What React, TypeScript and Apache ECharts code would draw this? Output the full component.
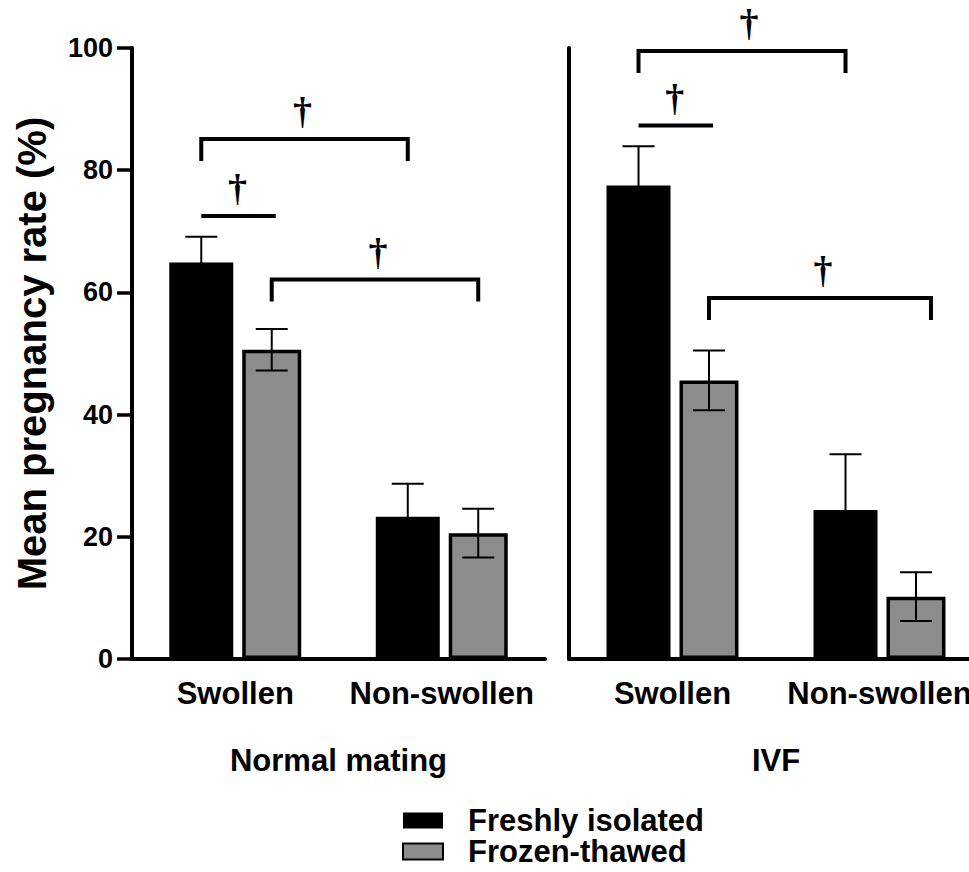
import React, { useEffect, useRef } from "react";
import * as echarts from "echarts";

// ---------- data ----------
const categories = ["Swollen", "Non-swollen"];
const panelNames = ["Normal mating", "IVF"];
const seriesNames = ["Freshly isolated", "Frozen-thawed"];
const yTickLabels = ["0", "20", "40", "60", "80", "100"];
const Y_MIN = 0;
const Y_MAX = 100;
const Y_STEP = 20;
const yTitle = "Mean pregnancy rate (%)";

const matingFresh = [64.9, 23.3];
const matingFreshErr = [4.2, 5.4];
const matingFrozen = [50.6, 20.6];
const matingFrozenErr = [3.4, 4.0];

const ivfFresh = [77.5, 24.4];
const ivfFreshErr = [6.4, 9.1];
const ivfFrozen = [45.6, 10.2];
const ivfFrozenErr = [4.9, 4.0];

// significance brackets: [cat1, slot1, cat2, slot2, level, hasLegs]
const matingBrackets = [
  [0, 0, 1, 0, 85.1, 1],
  [0, 0, 0, 1, 72.5, 0],
  [0, 1, 1, 1, 62.1, 1],
];
const ivfBrackets = [
  [0, 0, 1, 0, 99.5, 1],
  [0, 0, 0, 1, 87.3, 0],
  [0, 1, 1, 1, 59.1, 1],
];
const sigMark = "†";

// ---------- styling / layout ----------
const FONT = "'Liberation Sans', Arial, Helvetica, sans-serif";
const DAGGER_FONT = "'Liberation Serif', 'Times New Roman', serif";
const BAR_W = [64, 59];
const GAP_PCT = 0.14;
const TOTAL_W = BAR_W[0] * (1 + GAP_PCT) + BAR_W[1];
const OFFSETS = [
  -TOTAL_W / 2 + BAR_W[0] / 2,
  -TOTAL_W / 2 + BAR_W[0] * (1 + GAP_PCT) + BAR_W[1] / 2,
];
const CAP_W = 32;
const LEG_PX = 22;
// pixel nudges per bracket: [rightEndDx, daggerDx]
const bracketNudges = [
  [[0, -2], [4, -1], [0, 3]],
  [[0, 7], [4, -1], [15, 3]],
];

function errorRender(params: any, api: any) {
  const cat = api.value(0);
  const mean = api.value(1);
  const err = api.value(2);
  const slot = api.value(3);
  const top = api.coord([cat, mean + err]);
  const bot = api.coord([cat, mean - err]);
  const x = top[0] + OFFSETS[slot];
  const st = { stroke: "#000", lineWidth: 2 };
  return {
    type: "group",
    children: [
      { type: "line", shape: { x1: x, y1: top[1], x2: x, y2: bot[1] }, style: st },
      { type: "line", shape: { x1: x - CAP_W / 2, y1: top[1], x2: x + CAP_W / 2, y2: top[1] }, style: st },
      { type: "line", shape: { x1: x - CAP_W / 2, y1: bot[1], x2: x + CAP_W / 2, y2: bot[1] }, style: st },
    ],
  };
}

function makeBracketRender(panel: number) {
  return function (params: any, api: any) {
    const i = params.dataIndex;
    const nudge = bracketNudges[panel][i];
    const c1 = api.value(0);
    const s1 = api.value(1);
    const c2 = api.value(2);
    const s2 = api.value(3);
    const lvl = api.value(4);
    const legs = api.value(5);
    const p1 = api.coord([c1, lvl]);
    const p2 = api.coord([c2, lvl]);
    const x1 = p1[0] + OFFSETS[s1];
    const x2 = p2[0] + OFFSETS[s2] + nudge[0];
    const y = p1[1];
    const pts = legs
      ? [[x1, y + LEG_PX], [x1, y], [x2, y], [x2, y + LEG_PX]]
      : [[x1, y], [x2, y]];
    return {
      type: "group",
      children: [
        {
          type: "polyline",
          shape: { points: pts },
          style: { stroke: "#000", lineWidth: 4, fill: null, lineJoin: "miter" },
        },
        {
          type: "text",
          style: {
            text: sigMark,
            x: (x1 + x2) / 2 + nudge[1],
            y: y - 28,
            align: "center",
            verticalAlign: "middle",
            fontSize: 38,
            fontWeight: "bold",
            fontFamily: DAGGER_FONT,
            fill: "#000",
          },
        },
      ],
    };
  };
}

export default function App() {
  const ref = useRef<HTMLDivElement>(null);

  useEffect(() => {
    document.body.style.margin = "0";
    if (!ref.current) return;
    const chart = echarts.init(ref.current, undefined, { renderer: "svg" });

    const grids = [
      { left: 132, top: 48, width: 413, height: 611, outerBoundsMode: "none", containLabel: false },
      { left: 569, top: 48, width: 414, height: 611, outerBoundsMode: "none", containLabel: false },
    ];

    const xAxes = panelNames.map((pn, p) => ({
      type: "category",
      gridIndex: p,
      data: categories,
      boundaryGap: true,
      axisLine: { show: true, lineStyle: { color: "#000", width: 4 } },
      axisTick: { show: false },
      axisLabel: {
        interval: 0,
        margin: 19,
        color: "#000",
        fontSize: 31,
        fontWeight: "bold",
        fontFamily: FONT,
        hideOverlap: false,
      },
      name: pn,
      nameLocation: "middle",
      nameGap: 86,
      nameTextStyle: { color: "#000", fontSize: 31, fontWeight: "bold", fontFamily: FONT },
    }));

    const yAxes = [0, 1].map((p) => ({
      type: "value",
      gridIndex: p,
      min: Y_MIN,
      max: Y_MAX,
      interval: Y_STEP,
      splitLine: { show: false },
      axisLine: { show: true, lineStyle: { color: "#000", width: 4 } },
      axisTick: p === 0 ? { show: true, length: 15, lineStyle: { color: "#000", width: 3.5 } } : { show: false },
      axisLabel:
        p === 0
          ? {
              show: true,
              margin: 19,
              color: "#000",
              fontSize: 27,
              fontWeight: "bold",
              fontFamily: FONT,
              formatter: (v: number) => yTickLabels[Math.round((v - Y_MIN) / Y_STEP)] ?? String(v),
            }
          : { show: false },
      name: p === 0 ? yTitle : "",
      nameLocation: "middle",
      nameRotate: 90,
      nameGap: 80,
      nameTextStyle: { color: "#000", fontSize: 40, fontWeight: "bold", fontFamily: FONT },
    }));

    const panelData = [
      { fresh: matingFresh, freshErr: matingFreshErr, frozen: matingFrozen, frozenErr: matingFrozenErr, br: matingBrackets },
      { fresh: ivfFresh, freshErr: ivfFreshErr, frozen: ivfFrozen, frozenErr: ivfFrozenErr, br: ivfBrackets },
    ];

    const series: any[] = [];
    panelData.forEach((d, p) => {
      series.push({
        type: "bar",
        name: seriesNames[0],
        xAxisIndex: p,
        yAxisIndex: p,
        data: d.fresh,
        barWidth: BAR_W[0],
        barGap: GAP_PCT * 100 + "%",
        itemStyle: { color: "#000" },
      });
      series.push({
        type: "bar",
        name: seriesNames[1],
        xAxisIndex: p,
        yAxisIndex: p,
        data: d.frozen,
        barWidth: BAR_W[1],
        barGap: GAP_PCT * 100 + "%",
        itemStyle: { color: "#8c8c8c", borderColor: "#000", borderWidth: 3.5 },
      });
      const errData: number[][] = [];
      d.fresh.forEach((v, c) => errData.push([c, v, d.freshErr[c], 0]));
      d.frozen.forEach((v, c) => errData.push([c, v, d.frozenErr[c], 1]));
      series.push({
        type: "custom",
        name: "err" + p,
        xAxisIndex: p,
        yAxisIndex: p,
        z: 5,
        renderItem: errorRender,
        data: errData,
        silent: true,
      });
      series.push({
        type: "custom",
        name: "sig" + p,
        xAxisIndex: p,
        yAxisIndex: p,
        z: 5,
        renderItem: makeBracketRender(p),
        data: d.br,
        silent: true,
      });
    });

    chart.setOption({
      animation: false,
      backgroundColor: "#fff",
      grid: grids,
      xAxis: xAxes,
      yAxis: yAxes,
      legend: {
        data: seriesNames,
        orient: "vertical",
        left: 402,
        top: 805,
        padding: 0,
        icon: "rect",
        itemWidth: 40,
        itemHeight: 16,
        itemGap: 0,
        textStyle: {
          color: "#000",
          fontSize: 31,
          fontWeight: "bold",
          fontFamily: FONT,
          lineHeight: 31,
          padding: [0, 0, 0, 20],
        },
        selectedMode: false,
      },
      series,
    });

    return () => chart.dispose();
  }, []);

  return <div ref={ref} style={{ width: 969, height: 872 }} />;
}
